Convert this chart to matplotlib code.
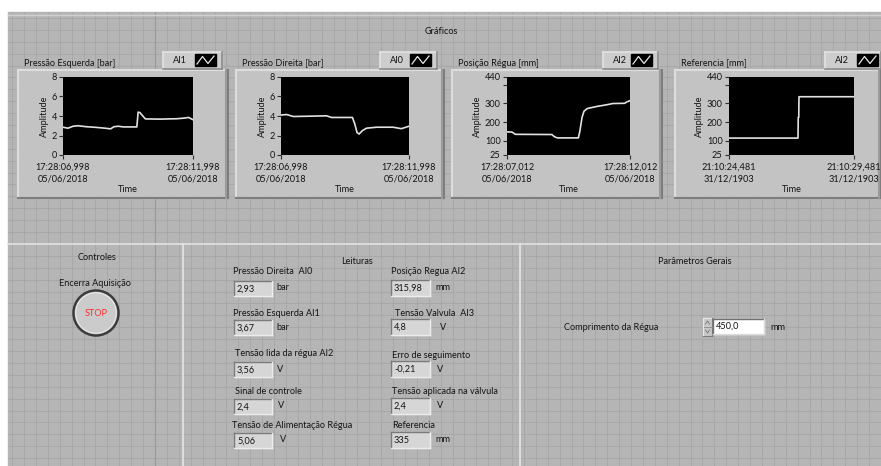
import matplotlib.pyplot as plt
from matplotlib.patches import Rectangle, Circle
import numpy as np

plt.rcParams['font.family'] = ['Lato', 'DejaVu Sans']

W, H = 881, 466

# ---- chart data (seconds from first sample) ----
esq_t = [0, 0.19, 0.39, 0.58, 0.90, 1.29, 1.61, 1.83, 1.96, 2.13, 2.32, 2.84, 2.89, 2.96, 3.07, 3.17, 3.74, 4.38, 4.64, 4.83, 5.0]
esq_v = [2.85, 2.75, 2.95, 3.0, 2.9, 2.83, 2.75, 2.68, 2.9, 2.95, 2.88, 2.88, 4.4, 4.35, 4.0, 3.7, 3.68, 3.72, 3.78, 3.85, 3.62]

dir_t = [0, 0.22, 0.48, 1.13, 1.78, 1.97, 2.79, 2.88, 2.97, 3.05, 3.18, 3.34, 3.73, 4.38, 4.70, 5.0]
dir_v = [4.1, 4.15, 3.95, 3.98, 4.02, 3.85, 3.85, 3.2, 2.3, 2.15, 2.5, 2.75, 2.85, 2.85, 2.7, 2.95]

pos_t = [0, 0.20, 0.34, 1.82, 1.93, 2.05, 2.90, 2.96, 3.05, 3.13, 3.26, 3.64, 4.04, 4.31, 4.78, 4.88, 5.0]
pos_v = [148, 147, 135, 134, 122, 116, 116, 150, 225, 258, 272, 283, 292, 299, 300, 308, 314]

ref_t = [0, 2.76, 2.77, 2.79, 2.80, 5.0]
ref_v = [115, 115, 225, 225, 335, 335]

titles = ['Pressão Esquerda [bar]', 'Pressão Direita [bar]', 'Posição Régua [mm]', 'Referencia [mm]']
tags = ['AI1', 'AI0', 'AI2', 'AI2']
x_labels = [['17:28:06,998\n05/06/2018', '17:28:11,998\n05/06/2018'],
            ['17:28:06,998\n05/06/2018', '17:28:11,998\n05/06/2018'],
            ['17:28:07,012\n05/06/2018', '17:28:12,012\n05/06/2018'],
            ['21:10:24,481\n31/12/1903', '21:10:29,481\n31/12/1903']]
bar_ticks = [0, 2, 4, 6, 8]
mm_ticks = [25, 100, 200, 300, 440]

# ---- indicators ----
left_names = ['Pressão Direita  AI0', 'Pressão Esquerda AI1', 'Tensão lida da régua AI2',
              'Sinal de controle', 'Tensão de Alimentação Régua']
left_values = ['2,93', '3,67', '3,56', '2,4', '5,06']
left_units = ['bar', 'bar', 'V', 'V', 'V']
right_names = ['Posição Regua AI2', 'Tensão Valvula  AI3', 'Erro de seguimento',
               'Tensão aplicada na válvula', 'Referencia']
right_values = ['315,98', '4,8', '-0,21', '2,4', '335']
right_units = ['mm', 'V', 'V', 'V', 'mm']
regua_len = '450,0'

BG = '#b5b5b5'
GRID = '#a6a6a6'
FRAME = '#c3c3c3'
TXT = '#141414'
FS = 6.6

fig = plt.figure(figsize=(W / 100, H / 100), dpi=100)
fig.patch.set_facecolor('white')
bg = fig.add_axes([0, 0, 1, 1])
bg.set_xlim(0, W)
bg.set_ylim(H, 0)
bg.axis('off')

bg.add_patch(Rectangle((8, 12), W - 8, H - 12, color=BG, zorder=0))
for gx in np.arange(155 - 11.9 * 13, W, 11.9):
    if gx > 8:
        bg.plot([gx, gx], [12, H], color=GRID, lw=0.6, zorder=1)
for gy in np.arange(244 - 11.9 * 20, H, 11.9):
    if gy > 12:
        bg.plot([8, W], [gy, gy], color=GRID, lw=0.6, zorder=1)
bg.plot([155, 155], [12, H], color='#999999', lw=0.8, zorder=1)
bg.plot([8, W], [15, 15], color='#d2d2d2', lw=1, zorder=2)
bg.plot([8, W], [244, 244], color='#e4e4e4', lw=1.2, zorder=2)
bg.plot([183, 183], [244, H], color='#e4e4e4', lw=1.2, zorder=2)
bg.plot([520, 520], [244, H], color='#e4e4e4', lw=1.2, zorder=2)

bg.text(441, 32, 'Gráficos', ha='center', va='center', fontsize=FS, color=TXT)


def bevel(x0, y0, x1, y1, face, light, dark, lw=1.0, z=3):
    bg.add_patch(Rectangle((x0, y0), x1 - x0, y1 - y0, color=face, zorder=z))
    bg.plot([x0, x1], [y0, y0], color=light, lw=lw, zorder=z + 0.1)
    bg.plot([x0, x0], [y0, y1], color=light, lw=lw, zorder=z + 0.1)
    bg.plot([x1, x1], [y0, y1], color=dark, lw=lw, zorder=z + 0.1)
    bg.plot([x0, x1], [y1, y1], color=dark, lw=lw, zorder=z + 0.1)


frames = [(18, 228), (236, 444), (452, 662), (675, 881)]
plots = [(63, 193), (281, 409), (507, 630), (729, 854)]
legends = [(163, 222), (380, 437), (603, 658), (825, 881)]
series = [(esq_t, esq_v), (dir_t, dir_v), (pos_t, pos_v), (ref_t, ref_v)]

for i in range(4):
    fx0, fx1 = frames[i]
    bevel(fx0, 70, fx1, 198, FRAME, '#dddddd', '#7d7d7d', lw=1.5)
    bg.plot([fx1 - 2, fx1 - 2], [70, 198], color='#9a9a9a', lw=1.5, zorder=3.2)
    bg.text(fx0 + 6, 63, titles[i], ha='left', va='center', fontsize=FS, color=TXT)
    lx0, lx1 = legends[i]
    bevel(lx0, 52, lx1, 69, '#cdcdcd', '#e2e2e2', '#8a8a8a', lw=1.2)
    bg.text(lx0 + 10, 60.5, tags[i], ha='left', va='center', fontsize=FS, color=TXT)
    sx0 = lx1 - 27 if lx1 < W else lx1 - 24
    bg.add_patch(Rectangle((sx0, 54), 21, 12, color='black', zorder=4))
    # legend glyph: small wave rising, falling, rising
    bg.plot([sx0 + 2, sx0 + 7.5, sx0 + 13, sx0 + 19], [64, 56.5, 63.5, 56],
            color='#e8e8e8', lw=0.9, zorder=5)

    px0, px1 = plots[i]
    ax = fig.add_axes([px0 / W, 1 - 155 / H, (px1 - px0) / W, (155 - 77) / H])
    ax.set_facecolor('black')
    t, v = series[i]
    ax.plot(t, v, color='#e2e2e2', lw=1.2)
    ax.set_xlim(0, 5)
    if i < 2:
        ax.set_ylim(0, 8)
        ax.set_yticks(bar_ticks)
    else:
        ax.set_ylim(25, 440)
        ax.set_yticks(mm_ticks)
        ax.set_yticks([400], minor=True)
    ax.set_xticks([0, 5])
    ax.set_xticklabels(x_labels[i], fontsize=FS, color=TXT, linespacing=1.45)
    ax.tick_params(axis='y', labelsize=FS, labelcolor=TXT, length=3, width=0.8,
                   color='#303030', pad=1.5)
    ax.tick_params(axis='y', which='minor', length=3, width=0.8, color='#303030')
    ax.tick_params(axis='x', length=3, width=0.8, color='#303030', pad=2.5)
    for s in ax.spines.values():
        s.set_visible(False)
    ax.set_ylabel('Amplitude', fontsize=FS, color=TXT, labelpad=2)
    ax.set_xlabel('Time', fontsize=FS, color=TXT, labelpad=1)

# ---- Controles ----
bg.text(97, 258, 'Controles', ha='center', va='center', fontsize=FS, color=TXT)
bg.text(95, 283, 'Encerra Aquisição', ha='center', va='center', fontsize=FS, color=TXT)
bg.add_patch(Circle((96, 313), 22.5, facecolor='#cbcbcb', edgecolor='#3c3c3c', lw=1.8, zorder=4))
bg.add_patch(Circle((96, 313), 20.3, facecolor='none', edgecolor='#e6e6e6', lw=0.8, zorder=4))
bg.text(96, 313, 'STOP', ha='center', va='center', fontsize=FS, color='#ff2a2a', zorder=5)

# ---- Leituras ----
bg.text(357, 262, 'Leituras', ha='center', va='center', fontsize=FS, color=TXT)
lab_y_l = [271, 313, 354, 392, 426]
box_y = [281, 320, 362, 399, 433]
lab_x_l = [233, 233, 235, 235, 232]
unit_x_l = [276, 276, 277, 278, 280]
lab_y_r = [271, 313, 356, 392, 425]
lab_x_r = [391, 395, 392, 392, 392]
unit_x_r = [435, 440, 437, 437, 435]


def indicator(x0, y0, x1, y1, val):
    bevel(x0, y0, x1, y1, '#d6d6d6', '#7a7a7a', '#ececec', lw=1.0)
    bg.text(x0 + 3, (y0 + y1) / 2 + 0.5, val, ha='left', va='center', fontsize=FS, color=TXT, zorder=6)


for k in range(5):
    bg.text(lab_x_l[k], lab_y_l[k], left_names[k], ha='left', va='center', fontsize=FS, color=TXT)
    indicator(234, box_y[k], 272, box_y[k] + 15, left_values[k])
    bg.text(unit_x_l[k], box_y[k] + 7, left_units[k], ha='left', va='center', fontsize=FS, color=TXT)
    bg.text(lab_x_r[k], lab_y_r[k], right_names[k], ha='left', va='center', fontsize=FS, color=TXT)
    indicator(391, box_y[k] - 1, 430, box_y[k] + 15, right_values[k])
    bg.text(unit_x_r[k], box_y[k] + 7, right_units[k], ha='left', va='center', fontsize=FS, color=TXT)

# ---- Parametros Gerais ----
bg.text(695, 262, 'Parâmetros Gerais', ha='center', va='center', fontsize=FS, color=TXT)
bg.text(564, 327, 'Comprimento da Régua', ha='left', va='center', fontsize=FS, color=TXT)
bevel(703, 318, 712, 336, '#c8c8c8', '#e8e8e8', '#7a7a7a', lw=0.8)
bg.plot([703.5, 711.5], [327, 327], color='#8a8a8a', lw=0.6, zorder=4)
bg.plot([705.5, 707.5, 709.5], [324, 321, 324], color='#707070', lw=0.6, zorder=4)
bg.plot([705.5, 707.5, 709.5], [330, 333, 330], color='#707070', lw=0.6, zorder=4)
bevel(713, 319, 764, 334, 'white', '#707070', '#dcdcdc', lw=1.0)
bg.text(716, 326.5, regua_len, ha='left', va='center', fontsize=FS, color=TXT, zorder=6)
bg.text(770, 327, 'mm', ha='left', va='center', fontsize=FS, color=TXT)

fig.savefig('out.png', dpi=100, facecolor='white')
